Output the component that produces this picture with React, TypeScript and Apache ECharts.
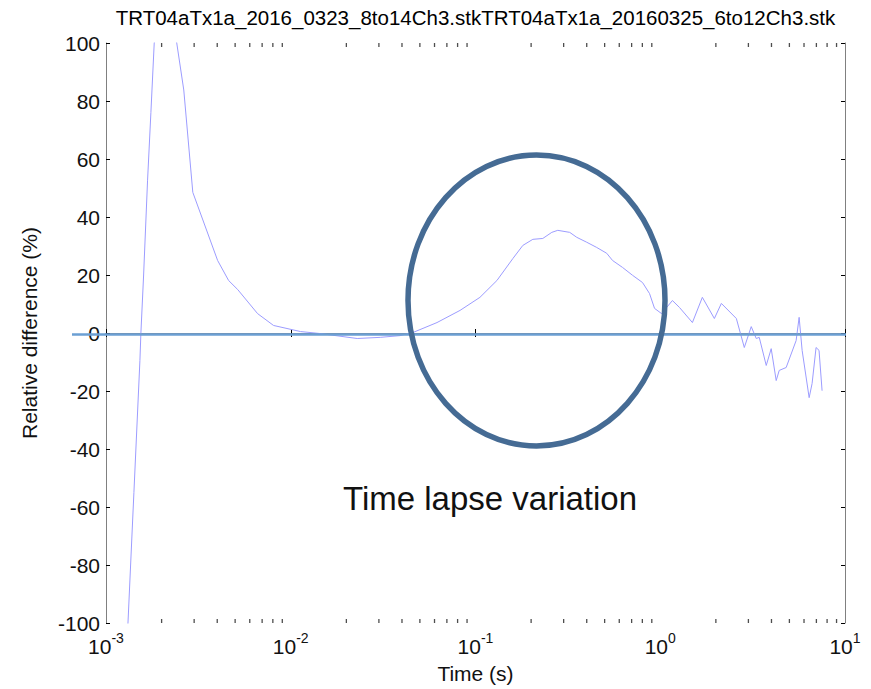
import React, { useEffect, useRef } from 'react';
import * as echarts from 'echarts';

const titleText = 'TRT04aTx1a_2016_0323_8to14Ch3.stkTRT04aTx1a_20160325_6to12Ch3.stk';
const xName = 'Time (s)';
const yName = 'Relative difference (%)';
const annotationText = 'Time lapse variation';

const timeS = [
  1.3e-3, 1.416e-3, 1.526e-3, 1.545e-3, 1.598e-3, 1.679e-3, 1.75e-3, 1.824e-3, 2.109e-3, 2.415e-3,
  2.636e-3, 2.95e-3, 4.02e-3, 4.61e-3, 5.16e-3, 6.61e-3, 8.07e-3, 1.129e-2, 1.448e-2, 2.29e-2,
  3.05e-2, 3.91e-2, 4.6e-2, 6.19e-2, 8.25e-2, 0.1057, 0.1306, 0.1594, 0.1804, 0.2043,
  0.2314, 0.2588, 0.2788, 0.3236, 0.3532, 0.3999, 0.4529, 0.5129, 0.5521, 0.6252,
  0.7079, 0.8017, 0.875, 0.9311, 1.016, 1.164, 1.271, 1.493, 1.69, 1.963,
  2.142, 2.582, 2.851, 3.108, 3.308, 3.434, 3.747, 3.986, 4.242, 4.405,
  4.803, 5.439, 5.646, 5.861, 6.397, 6.637, 6.973, 7.236, 7.516,
];
const relDiff = [
  -107, -55, -9.5, 0, 20, 52.7, 76, 100, 120, 100,
  83.8, 48.5, 25, 18.1, 15, 6.7, 2.6, 0.5, -0.2, -1.9,
  -1.5, -0.9, 0.2, 3.6, 7.8, 12.3, 18.1, 25.7, 30.2, 32.3,
  32.6, 34.7, 35.4, 34.7, 33.0, 31.3, 29.5, 27.5, 25.0, 22.6,
  19.9, 17.4, 13.6, 8.5, 6.7, 11.2, 8.8, 3.6, 12.3, 5.0,
  10.2, 5.0, -5.0, 2.2, -1.9, -1.5, -11.2, -5.4, -16.4, -12.9,
  -11.9, -2.6, 5.4, -6.0, -22.3, -17.4, -5.0, -6.0, -19.9,
];

const referenceLevel = -0.5;
const decadeStarts = [0.001, 0.01, 0.1, 1];
const minorMantissas = [2, 3, 4, 5, 6, 7, 8, 9];
const yMin = -100;
const yMax = 100;
const yStep = 20;

const FONT = '"Liberation Sans", Arial, Helvetica, sans-serif';

export default function App() {
  const ref = useRef<HTMLDivElement>(null);

  useEffect(() => {
    if (!ref.current) return;
    const chart = echarts.init(ref.current, undefined, { renderer: 'svg' });

    const minorTicks: number[] = [];
    decadeStarts.forEach((d) => minorMantissas.forEach((m) => minorTicks.push(m * d)));

    const axisLineStyle = { color: '#808080', width: 1 };
    const tickStyle = { color: '#000', width: 1 };

    chart.setOption({
      animation: false,
      backgroundColor: '#fff',
      grid: { left: 106, right: 26, top: 43, bottom: 65, containLabel: false },
      xAxis: [
        {
          type: 'log',
          logBase: 10,
          min: 0.001,
          max: 10,
          position: 'bottom',
          axisLine: { show: true, lineStyle: axisLineStyle },
          axisTick: { show: true, inside: true, length: 4, lineStyle: tickStyle },
          splitLine: { show: false },
          axisLabel: {
            margin: 8,
            formatter: (v: number) => `{b|10}{s|${Math.round(Math.log10(v))}}`,
            rich: {
              b: { fontSize: 21, fontFamily: FONT, color: '#111' },
              s: { fontSize: 14, fontFamily: FONT, color: '#111', padding: [0, 0, 16, 0] },
            },
          },
          name: xName,
          nameLocation: 'middle',
          nameGap: 40,
          nameTextStyle: { fontSize: 21, fontFamily: FONT, color: '#111' },
        },
        {
          type: 'log',
          logBase: 10,
          min: 0.001,
          max: 10,
          position: 'top',
          axisLine: { show: true, lineStyle: axisLineStyle },
          axisTick: { show: true, inside: true, length: 4, lineStyle: tickStyle },
          axisLabel: { show: false },
          splitLine: { show: false },
        },
      ],
      yAxis: [
        {
          type: 'value',
          min: yMin,
          max: yMax,
          interval: yStep,
          position: 'left',
          axisLine: { show: true, lineStyle: axisLineStyle },
          axisTick: { show: true, inside: true, length: 4, lineStyle: tickStyle },
          splitLine: { show: false },
          axisLabel: { margin: 6, fontSize: 21, fontFamily: FONT, color: '#111' },
          name: yName,
          nameLocation: 'middle',
          nameRotate: 90,
          nameGap: 66,
          nameTextStyle: { fontSize: 21, fontFamily: FONT, color: '#111' },
        },
        {
          type: 'value',
          min: yMin,
          max: yMax,
          interval: yStep,
          position: 'right',
          axisLine: { show: true, lineStyle: axisLineStyle },
          axisTick: { show: true, inside: true, length: 4, lineStyle: tickStyle },
          axisLabel: { show: false },
          splitLine: { show: false },
        },
      ],
      series: [
        {
          type: 'line',
          xAxisIndex: 0,
          yAxisIndex: 0,
          data: timeS.map((t, i) => [t, relDiff[i]]),
          showSymbol: false,
          symbol: 'none',
          clip: true,
          lineStyle: { color: '#9c9cff', width: 1 },
          silent: true,
          z: 3,
        },
        {
          type: 'scatter',
          xAxisIndex: 0,
          yAxisIndex: 0,
          data: minorTicks.map((t) => [t, yMin]),
          symbol: 'rect',
          symbolSize: [1.3, 4],
          symbolOffset: [0, -2],
          itemStyle: { color: '#222' },
          clip: false,
          silent: true,
          z: 4,
        },
        {
          type: 'scatter',
          xAxisIndex: 0,
          yAxisIndex: 0,
          data: minorTicks.map((t) => [t, yMax]),
          symbol: 'rect',
          symbolSize: [1.3, 4],
          symbolOffset: [0, 2],
          itemStyle: { color: '#222' },
          clip: false,
          silent: true,
          z: 4,
        },
      ],
    });

    const refY = chart.convertToPixel({ yAxisIndex: 0 }, referenceLevel) as number;
    const xRight = chart.convertToPixel({ xAxisIndex: 0 }, 10) as number;

    chart.setOption({
      graphic: [
        {
          type: 'text',
          x: 475.5,
          y: 17,
          style: {
            text: titleText,
            fontSize: 20.5,
            fontFamily: FONT,
            fill: '#000',
            align: 'center',
            verticalAlign: 'middle',
          },
        },
        {
          type: 'line',
          shape: { x1: 72, y1: refY, x2: xRight + 1, y2: refY },
          style: { stroke: '#6b9fd3', lineWidth: 2.5 },
          z: 10,
        },
        {
          type: 'ellipse',
          shape: { cx: 536.5, cy: 300.5, rx: 128.5, ry: 145.5 },
          style: { fill: 'none', stroke: '#456b94', lineWidth: 5.5 },
          z: 11,
        },
        {
          type: 'text',
          x: 490,
          y: 498,
          style: {
            text: annotationText,
            fontSize: 33,
            fontFamily: FONT,
            fill: '#111',
            align: 'center',
            verticalAlign: 'middle',
          },
          z: 12,
        },
      ],
    });

    return () => chart.dispose();
  }, []);

  return (
    <div
      ref={ref}
      style={{ position: 'fixed', left: 0, top: 0, width: 871, height: 689, background: '#fff' }}
    />
  );
}
